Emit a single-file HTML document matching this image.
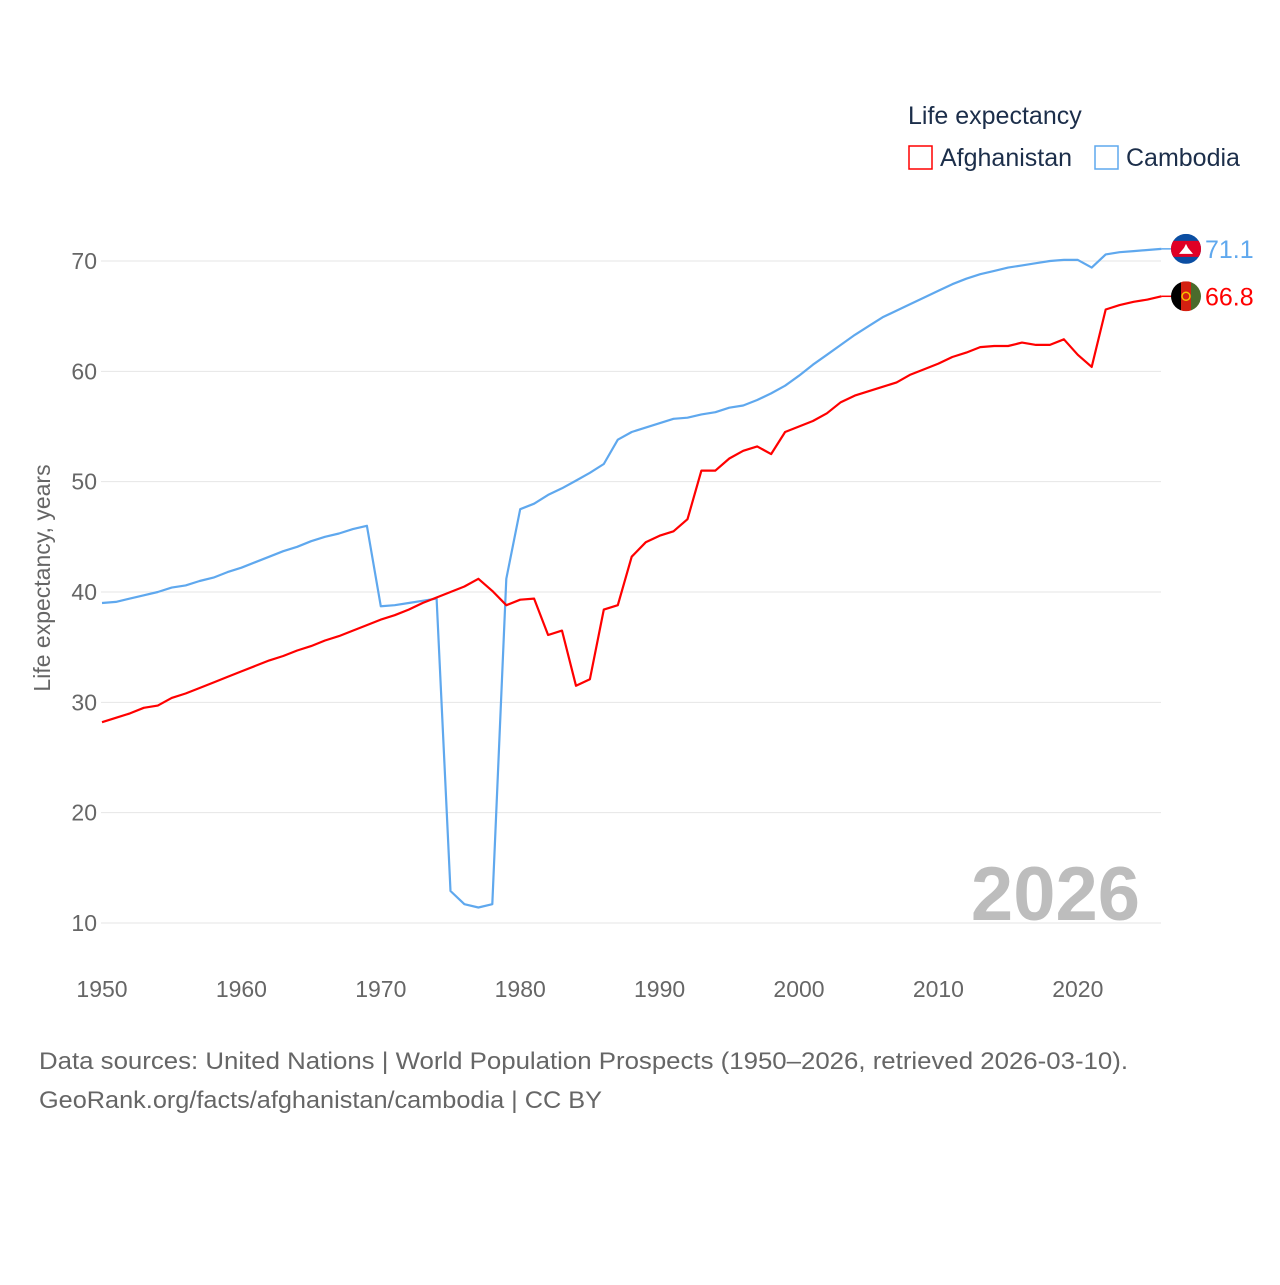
<!DOCTYPE html>
<html><head><meta charset="utf-8"><style>
body{margin:0;background:#fff;}
svg text{font-family:"Liberation Sans",sans-serif;}
</style></head><body>
<svg width="1280" height="1280" viewBox="0 0 1280 1280">
<g id="grid"></g>
<g id="yticks"></g>
<g id="xticks"></g>
<text transform="translate(50,578) rotate(-90)" text-anchor="middle" font-size="23" fill="#666">Life expectancy, years</text>
<text x="1140" y="920" text-anchor="end" font-size="76" font-weight="bold" fill="#bdbdbd">2026</text>
<g id="series"></g>
<g>
<text x="908" y="124" font-size="25" fill="#1c2e4a">Life expectancy</text>
<rect x="909" y="146" width="23" height="23" fill="none" stroke="#ff0000" stroke-width="1.5"/>
<text x="940" y="166" font-size="25" fill="#1c2e4a">Afghanistan</text>
<rect x="1095" y="146" width="23" height="23" fill="none" stroke="#5fa8ee" stroke-width="1.5"/>
<text x="1126" y="166" font-size="25" fill="#1c2e4a">Cambodia</text>
</g>
<g>
<text x="39" y="1069" font-size="24" fill="#666" textLength="1089" lengthAdjust="spacingAndGlyphs">Data sources: United Nations | World Population Prospects (1950–2026, retrieved 2026-03-10).</text>
<text x="39" y="1108" font-size="24" fill="#666" textLength="563" lengthAdjust="spacingAndGlyphs">GeoRank.org/facts/afghanistan/cambodia | CC BY</text>
</g>
</svg>
<script>
const years=[];for(let y=1950;y<=2026;y++)years.push(y);
const afghanistan=[28.2,28.6,29.0,29.5,29.7,30.4,30.8,31.3,31.8,32.3,32.8,33.3,33.8,34.2,34.7,35.1,35.6,36.0,36.5,37.0,37.5,37.9,38.4,39.0,39.5,40.0,40.5,41.2,40.1,38.8,39.3,39.4,36.1,36.5,31.5,32.1,38.4,38.8,43.2,44.5,45.1,45.5,46.6,51.0,51.0,52.1,52.8,53.2,52.5,54.5,55.0,55.5,56.2,57.2,57.8,58.2,58.6,59.0,59.7,60.2,60.7,61.3,61.7,62.2,62.3,62.3,62.6,62.4,62.4,62.9,61.5,60.4,65.6,66.0,66.3,66.5,66.8];
const cambodia=[39.0,39.1,39.4,39.7,40.0,40.4,40.6,41.0,41.3,41.8,42.2,42.7,43.2,43.7,44.1,44.6,45.0,45.3,45.7,46.0,38.7,38.8,39.0,39.2,39.4,12.9,11.7,11.4,11.7,41.2,47.5,48.0,48.8,49.4,50.1,50.8,51.6,53.8,54.5,54.9,55.3,55.7,55.8,56.1,56.3,56.7,56.9,57.4,58.0,58.7,59.6,60.6,61.5,62.4,63.3,64.1,64.9,65.5,66.1,66.7,67.3,67.9,68.4,68.8,69.1,69.4,69.6,69.8,70.0,70.1,70.1,69.4,70.6,70.8,70.9,71.0,71.1];
const yTicks=[10,20,30,40,50,60,70];
const xTicks=[1950,1960,1970,1980,1990,2000,2010,2020];
const X=y=>102+(y-1950)*13.94;
const Y=v=>261+(70-v)*11.033;
const NS='http://www.w3.org/2000/svg';
function mk(t,a,p){const e=document.createElementNS(NS,t);for(const k in a)e.setAttribute(k,a[k]);p.appendChild(e);return e;}
const grid=document.getElementById('grid'),yt=document.getElementById('yticks'),xt=document.getElementById('xticks'),ser=document.getElementById('series');
yTicks.forEach(v=>{
 const l=mk('line',{x1:101,x2:1161,y1:Y(v),y2:Y(v),stroke:'#e6e6e6','stroke-width':1},grid);
 
 
 const t=mk('text',{x:97,y:Y(v)+8,'text-anchor':'end','font-size':23,fill:'#666'},yt);t.textContent=v;
 
 
});
xTicks.forEach(v=>{
 const t=mk('text',{x:X(v),y:997,'text-anchor':'middle','font-size':23,fill:'#666'},xt);t.textContent=v;
 
 
});
function line(data,color,name){
 const d=data.map((v,i)=>(i?'L':'M')+X(years[i]).toFixed(1)+','+Y(v).toFixed(1)).join('');
 const p=mk('path',{d:d,fill:'none',stroke:color,'stroke-width':2.2,'stroke-linejoin':'round'},ser);
 
 
 const last=data[data.length-1],ly=Y(last),lx=X(years[years.length-1]);
 const c=mk('line',{x1:lx,x2:1172,y1:ly,y2:ly,stroke:color,'stroke-width':1.5},ser);
 
 
 const t=mk('text',{x:1205,y:ly+9,'font-size':25,fill:color},ser);t.textContent=last.toFixed(1);
 
 
 return ly;
}
const ca=line(cambodia,'#5fa8ee','cambodia');
const af=line(afghanistan,'#ff0000','afghanistan');
const fc=mk('g',{},ser);


const cp1=mk('clipPath',{id:'cc'},fc);mk('circle',{cx:1186,cy:ca,r:15},cp1);
const g1=mk('g',{'clip-path':'url(#cc)'},fc);
mk('rect',{x:1171,y:ca-15,width:30,height:30,fill:'#0b4ea2'},g1);
mk('rect',{x:1171,y:ca-8,width:30,height:16,fill:'#e00025'},g1);
mk('path',{d:`M1179,${ca+5}L1193,${ca+5}L1188,${ca-1}L1186,${ca-5}L1184,${ca-1}Z`,fill:'#fff'},g1);
const fa=mk('g',{},ser);


const cp=mk('clipPath',{id:'ca'},fa);mk('circle',{cx:1186,cy:af,r:15},cp);
const g2=mk('g',{'clip-path':'url(#ca)'},fa);
mk('rect',{x:1171,y:af-15,width:10,height:30,fill:'#000'},g2);
mk('rect',{x:1181,y:af-15,width:10,height:30,fill:'#d32011'},g2);
mk('rect',{x:1191,y:af-15,width:10,height:30,fill:'#4a6b2c'},g2);
mk('circle',{cx:1186,cy:af,r:4,fill:'none',stroke:'#f4c300','stroke-width':1.5},g2);
</script>
</body></html>
